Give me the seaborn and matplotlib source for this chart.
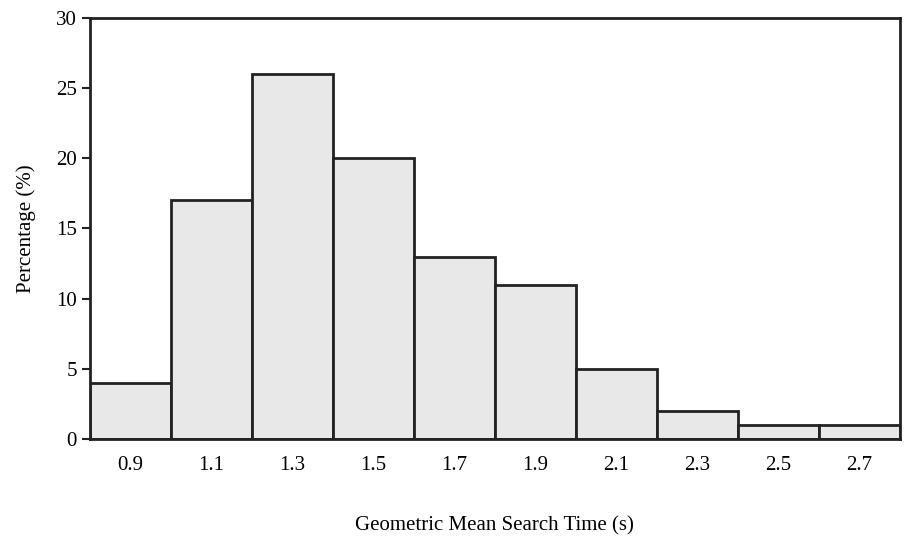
import matplotlib
matplotlib.use("Agg")
import matplotlib.pyplot as plt
import seaborn as sns
import pandas as pd

categories = ["0.9", "1.1", "1.3", "1.5", "1.7", "1.9", "2.1", "2.3", "2.5", "2.7"]
percentages = [4, 17, 26, 20, 13, 11, 5, 2, 1, 1]

sns.set_style("white")
plt.rcParams["font.family"] = ["Liberation Serif", "DejaVu Serif"]
plt.rcParams["text.color"] = "black"
plt.rcParams["axes.labelcolor"] = "black"
plt.rcParams["xtick.color"] = "black"
plt.rcParams["ytick.color"] = "black"

df = pd.DataFrame({"bin": categories, "pct": percentages})
fig = plt.figure(figsize=(9.18, 5.44), dpi=100)
ax = fig.add_axes([0.098, 0.193, 0.882, 0.774])
sns.barplot(data=df, x="bin", y="pct", width=1.0, color="#e8e8e8",
            edgecolor="#222222", linewidth=2, saturation=1, ax=ax)
ax.set_xlim(-0.5, len(categories) - 0.5)
ax.set_ylim(0, 30)
ax.set_yticks(range(0, 31, 5))
ax.set_xlabel("Geometric Mean Search Time (s)", fontsize=15, labelpad=30)
ax.set_ylabel("Percentage (%)", fontsize=15, labelpad=14)
ax.tick_params(axis="y", labelsize=15, length=6, width=1.5, left=True, direction="out", color="#222222")
ax.tick_params(axis="x", labelsize=15, length=0, pad=12)
for s in ax.spines.values():
    s.set_visible(True)
    s.set_color("#222222")
    s.set_linewidth(2)
fig.savefig("out.png", dpi=100)
